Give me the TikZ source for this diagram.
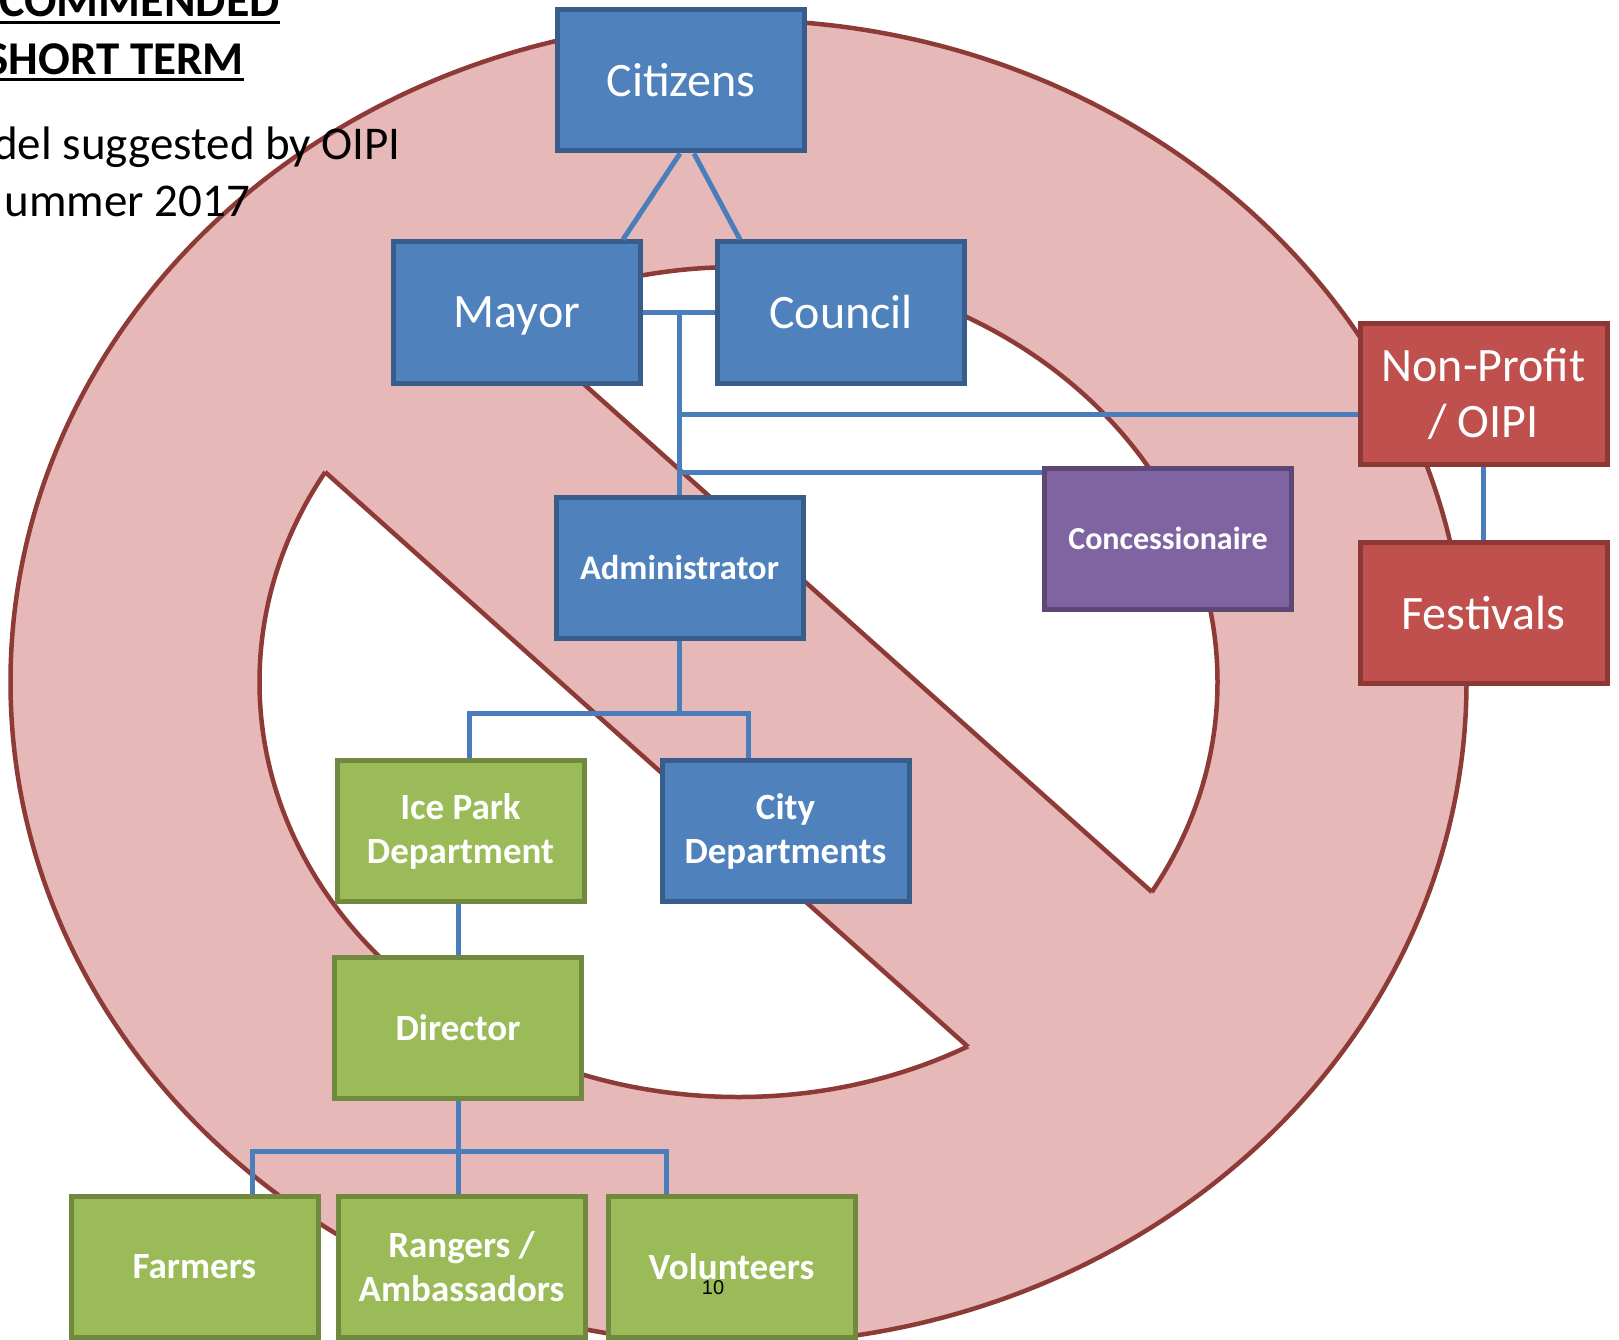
\documentclass[tikz,border=0pt]{standalone}
\usepackage{fontspec}
\setmainfont{Carlito}
\newfontfamily\arialfont{Liberation Sans}
\usetikzlibrary{positioning, calc}

\definecolor{ringfill}{HTML}{E6B9B8}
\definecolor{ringline}{HTML}{8E3A36}
\definecolor{boxblue}{HTML}{4F81BD}
\definecolor{boxblueline}{HTML}{385D8A}
\definecolor{boxgreen}{HTML}{9BBB59}
\definecolor{boxgreenline}{HTML}{71893F}
\definecolor{boxpurple}{HTML}{8064A2}
\definecolor{boxpurpleline}{HTML}{5C4776}
\definecolor{boxred}{HTML}{C0504D}
\definecolor{boxredline}{HTML}{8C3836}
\definecolor{linkblue}{HTML}{4A7EBB}

\begin{document}
\begin{tikzpicture}[x=1pt, y=-1pt,
		box/.style={draw, rectangle, line width=5pt, minimum width=247pt, minimum height=141pt, text=white, align=center, inner sep=2pt},
		bluebox/.style={box, fill=boxblue, draw=boxblueline},
		greenbox/.style={box, fill=boxgreen, draw=boxgreenline},
		purplebox/.style={box, fill=boxpurple, draw=boxpurpleline},
		redbox/.style={box, fill=boxred, draw=boxredline},
		big/.style={font=\fontsize{48}{56}\selectfont},
		small/.style={font=\fontsize{37}{44}\selectfont\bfseries},
		link/.style={draw=linkblue, line width=5pt},
		ring/.style={draw=ringline, line width=4.5pt}]

		\useasboundingbox (0,0) rectangle (1619,1340);

		% No sign
		\coordinate (ringc) at (738.5, 682);
		\filldraw[ring, fill=ringfill] (ringc) ellipse [x radius=728pt, y radius=662pt];
		\begin{scope}
			\clip[shift={(ringc)}, rotate=-41.8] (-1200,-119) rectangle (1200,-1300);
			\filldraw[ring, fill=white] (ringc) ellipse [x radius=479pt, y radius=415pt];
		\end{scope}
		\begin{scope}
			\clip[shift={(ringc)}, rotate=-41.8] (-1200,119) rectangle (1200,1300);
			\filldraw[ring, fill=white] (ringc) ellipse [x radius=479pt, y radius=415pt];
		\end{scope}
		\begin{scope}
			\clip (ringc) ellipse [x radius=479pt, y radius=415pt];
			\draw[ring, shift={(ringc)}, rotate=-41.8] (-1200,-119) -- (1200,-119) (-1200,119) -- (1200,119);
		\end{scope}

		% Title
		\node (title1) at (280, 17) [anchor=base east, inner sep=0, font=\fontsize{48}{58}\selectfont\bfseries] {COMMENDED};
		\node (title2) at (244, 75) [anchor=base east, inner sep=0, font=\fontsize{47}{58}\selectfont\bfseries] {SHORT TERM};
		\draw[line width=3pt] ($(title1.base west)+(0,6)$) -- ($(title1.base east)+(0,6)$);
		\draw[line width=3pt] ($(title2.base west)+(0,5)$) -- ($(title2.base east)+(0,5)$);
		\node (sub1) at (401, 160) [anchor=base east, inner sep=0, font=\fontsize{47}{56}\selectfont] {del suggested by OIPI};
		\node (sub2) at (250, 217) [anchor=base east, inner sep=0, font=\fontsize{47}{56}\selectfont] {ummer 2017};

		% City
		\begin{scope}
			\node (citizens) at (681, 80.5) [bluebox, big] {Citizens};
			\node (mayor) at (517, 312.5) [bluebox, big, text depth=0pt] {Mayor};
			\node (council) [bluebox, big, right = 72pt of mayor] {Council};
			\node (administrator) at (679.5, 567.5) [bluebox, font=\fontsize{34.5}{42}\selectfont\bfseries] {Administrator};
			\node (citydepts) at (785.5, 831) [bluebox, small] {City\\Departments};
		\end{scope}

		% Partners
		\begin{scope}
			\node (nonprofit) at (1483.5, 394) [redbox, big] {Non-Profit\\/ OIPI};
			\node (festivals) [redbox, big, below = 73pt of nonprofit] {Festivals};
			\node (concessionaire) at (1168, 538.5) [purplebox, font=\fontsize{32}{38}\selectfont\bfseries] {Concessionaire};
		\end{scope}

		% Ice Park
		\begin{scope}
			\node (icepark) at (460.5, 831) [greenbox, small] {Ice Park\\Department};
			\node (director) at (458, 1027.5) [greenbox, small] {Director};
			\node (farmers) at (194.5, 1267) [greenbox, small] {Farmers};
			\node (rangers) [greenbox, small, right = 15pt of farmers] {Rangers /\\Ambassadors};
			\node (volunteers) [greenbox, small, right = 18pt of rangers] {Volunteers};
		\end{scope}

		% Links
		\coordinate (mc) at ($(mayor.east)!0.5!(council.west)$);
		\coordinate (npjoin) at ($(nonprofit.west)+(0,20)$);
		\coordinate (conjoin) at ($(concessionaire.north west)+(0,7)$);
		\coordinate (adminbus) at ($(administrator.south)+(0,73)$);
		\coordinate (dirbus) at ($(director.south)+(0,51)$);

		\draw[link] ($(citizens.south)+(-1,0)$) -- ($(mayor.north east)+(-20,0)$);
		\draw[link] ($(citizens.south)+(13,0)$) -- ($(council.north west)+(25,0)$);
		\draw[link] (mayor.east) -- (council.west);
		\draw[link] (mc) -- (mc |- administrator.north);
		\draw[link] (npjoin) -- (npjoin -| mc);
		\draw[link] (conjoin) -- (conjoin -| mc);
		\draw[link] (nonprofit.south) -- (festivals.north);

		\draw[link] (administrator.south) -- (adminbus);
		\draw[link] ($(icepark.north)+(9,0)$) |- (adminbus) -| ($(citydepts.north)+(-37,0)$);
		\draw[link] (icepark.south -| director.north) -- (director.north);

		\draw[link] (director.south) -- (dirbus);
		\draw[link] ($(farmers.north)+(58,0)$) |- (dirbus) -| ($(volunteers.north)+(-65,0)$);
		\draw[link] (dirbus) -- (dirbus |- rangers.north);

		\node (pagenum) at (713, 1288) [font=\arialfont\fontsize{20}{24}\selectfont] {10};

	\end{tikzpicture}
\end{document}
